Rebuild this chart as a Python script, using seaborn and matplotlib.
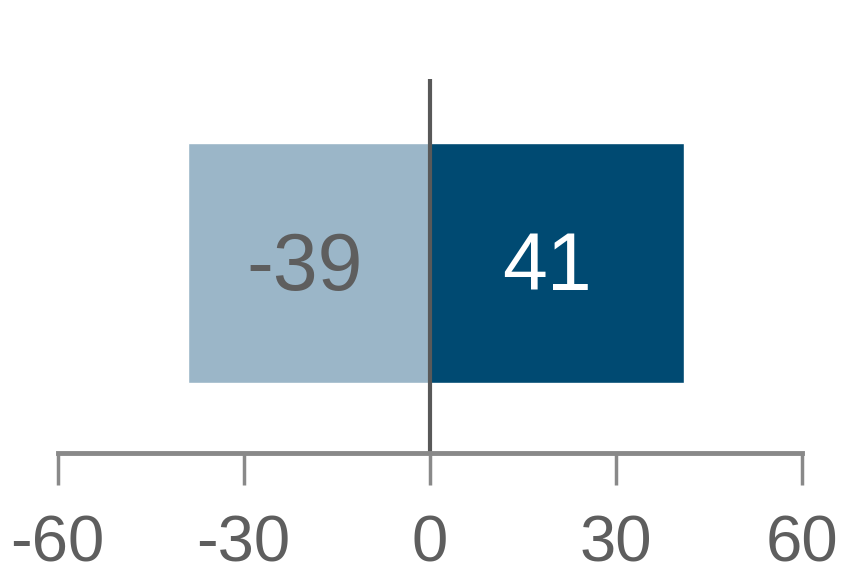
import matplotlib
matplotlib.use('Agg')
import matplotlib.pyplot as plt
import seaborn as sns
import pandas as pd

# data
categories = ['All', 'All']
series = ['Negative', 'Positive']
values = [-39, 41]
ticks = [-60, -30, 0, 30, 60]

df = pd.DataFrame({'category': categories, 'series': series, 'value': values})
palette = {'Negative': '#9BB6C8', 'Positive': '#004A72'}
label_colors = ['#5E5E5E', '#FFFFFF']
label_nudge = [(-3, -4), (-7, -4)]  # points, small offsets like the original

sns.set_style('white')
plt.rcParams['font.family'] = ['Liberation Sans', 'DejaVu Sans']

fig = plt.figure(figsize=(8.64, 5.76), dpi=100)
ax = fig.add_axes([57.5 / 864, (576 - 453) / 576, (802 - 57.5) / 864, (453 - 79) / 576])

sns.barplot(data=df, x='value', y='category', hue='series', palette=palette,
            dodge=False, width=0.642, orient='h', legend=False, ax=ax, saturation=1)

for cont, col, nudge in zip(ax.containers, label_colors, label_nudge):
    anns = ax.bar_label(cont, labels=['%d' % v for v in cont.datavalues], label_type='center',
                        color=col, fontsize=58)
    for a in anns:
        a.xyann = nudge

ax.axvline(0, color='#595959', lw=3)

ax.set_xlim(-60, 60)
ax.set_ylim(0.508, -0.492)
ax.set_xticks(ticks)
ax.set_xticklabels([str(t) for t in ticks])
ax.set_yticks([])
ax.set_xlabel('')
ax.set_ylabel('')

for s in ['top', 'right', 'left']:
    ax.spines[s].set_visible(False)
ax.spines['bottom'].set_color('#898989')
ax.spines['bottom'].set_linewidth(3.5)
ax.tick_params(axis='x', direction='out', length=23, width=2.5, color='#898989',
               labelsize=47, labelcolor='#5E5E5E', pad=21, bottom=True)

fig.savefig('out.png', dpi=100)
